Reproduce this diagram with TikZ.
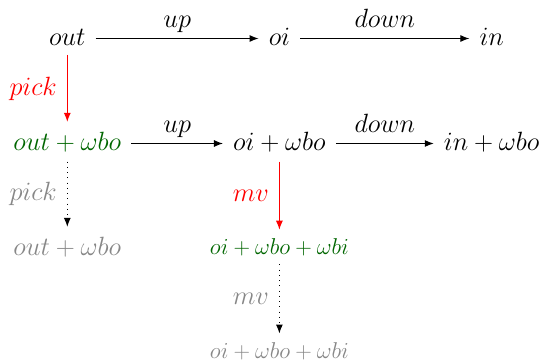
\documentclass[tikz,border=0pt]{standalone}
\usepackage{fix-cm}
\usetikzlibrary{arrows.meta}
\definecolor{dgreen}{RGB}{0,102,0}
\definecolor{lgray}{RGB}{135,135,135}
\newcommand\bigf{\fontsize{26.4}{31}\selectfont}
\newcommand\smallf{\fontsize{22.9}{27}\selectfont}
\tikzset{
  bignode/.style={font=\bigf, inner xsep=10pt, inner ysep=9.7pt, anchor=base},
  smallnode/.style={font=\smallf, inner xsep=9pt, inner ysep=8.4pt, anchor=base},
  arr/.style={line width=1.05pt, -{Latex[length=9pt,width=7pt]}},
  dotarr/.style={arr, dash pattern=on 1.05pt off 4.2pt},
  toplab/.style={above, font=\bigf, text depth=0pt, inner sep=10.5pt},
  sidelab/.style={left, font=\bigf, inner xsep=10pt, inner ysep=0pt},
}
\begin{document}
\begin{tikzpicture}[x=1pt,y=-1pt]
\useasboundingbox (0,0) rectangle (543,361);
% row 1
\node[bignode] (out) at (67.3,45.1) {$out$};
\node[bignode] (oi) at (279.4,45.1) {$oi$};
\node[bignode] (in) at (491.7,45.1) {$in$};
% row 2
\node[bignode, text=dgreen] (outb) at (67.3,150.1) {$out+\omega bo$};
\node[bignode] (oib) at (279.4,150.1) {$oi+\omega bo$};
\node[bignode] (inb) at (491.7,150.1) {$in+\omega bo$};
% row 3
\node[bignode, text=lgray] (outc) at (67.3,255.1) {$out+\omega bo$};
\node[smallnode, text=dgreen] (oic) at (279.4,254.2) {$oi+\omega bo+\omega bi$};
% row 4
\node[smallnode, text=lgray] (oid) at (279.4,358) {$oi+\omega bo+\omega bi$};
% horizontal arrows
\draw[arr] ([yshift=6.6pt]out.base east) -- node[toplab]{$up$} ([yshift=6.6pt]oi.base west);
\draw[arr] ([yshift=6.6pt]oi.base east) -- node[toplab]{$down$} ([yshift=6.6pt]in.base west);
\draw[arr] ([yshift=6.6pt]outb.base east) -- node[toplab]{$up$} ([yshift=6.6pt]oib.base west);
\draw[arr] ([yshift=6.6pt]oib.base east) -- node[toplab]{$down$} ([yshift=6.6pt]inb.base west);
% vertical arrows
\draw[arr, red] (out) -- node[sidelab, text=red]{$pick$} (outb);
\draw[dotarr] (outb) -- node[sidelab, text=lgray]{$pick$} (outc);
\draw[arr, red] (oib) -- node[sidelab, text=red]{$mv$} (oic);
\draw[dotarr] (oic) -- node[sidelab, text=lgray]{$mv$} (oid);
\end{tikzpicture}
\end{document}
